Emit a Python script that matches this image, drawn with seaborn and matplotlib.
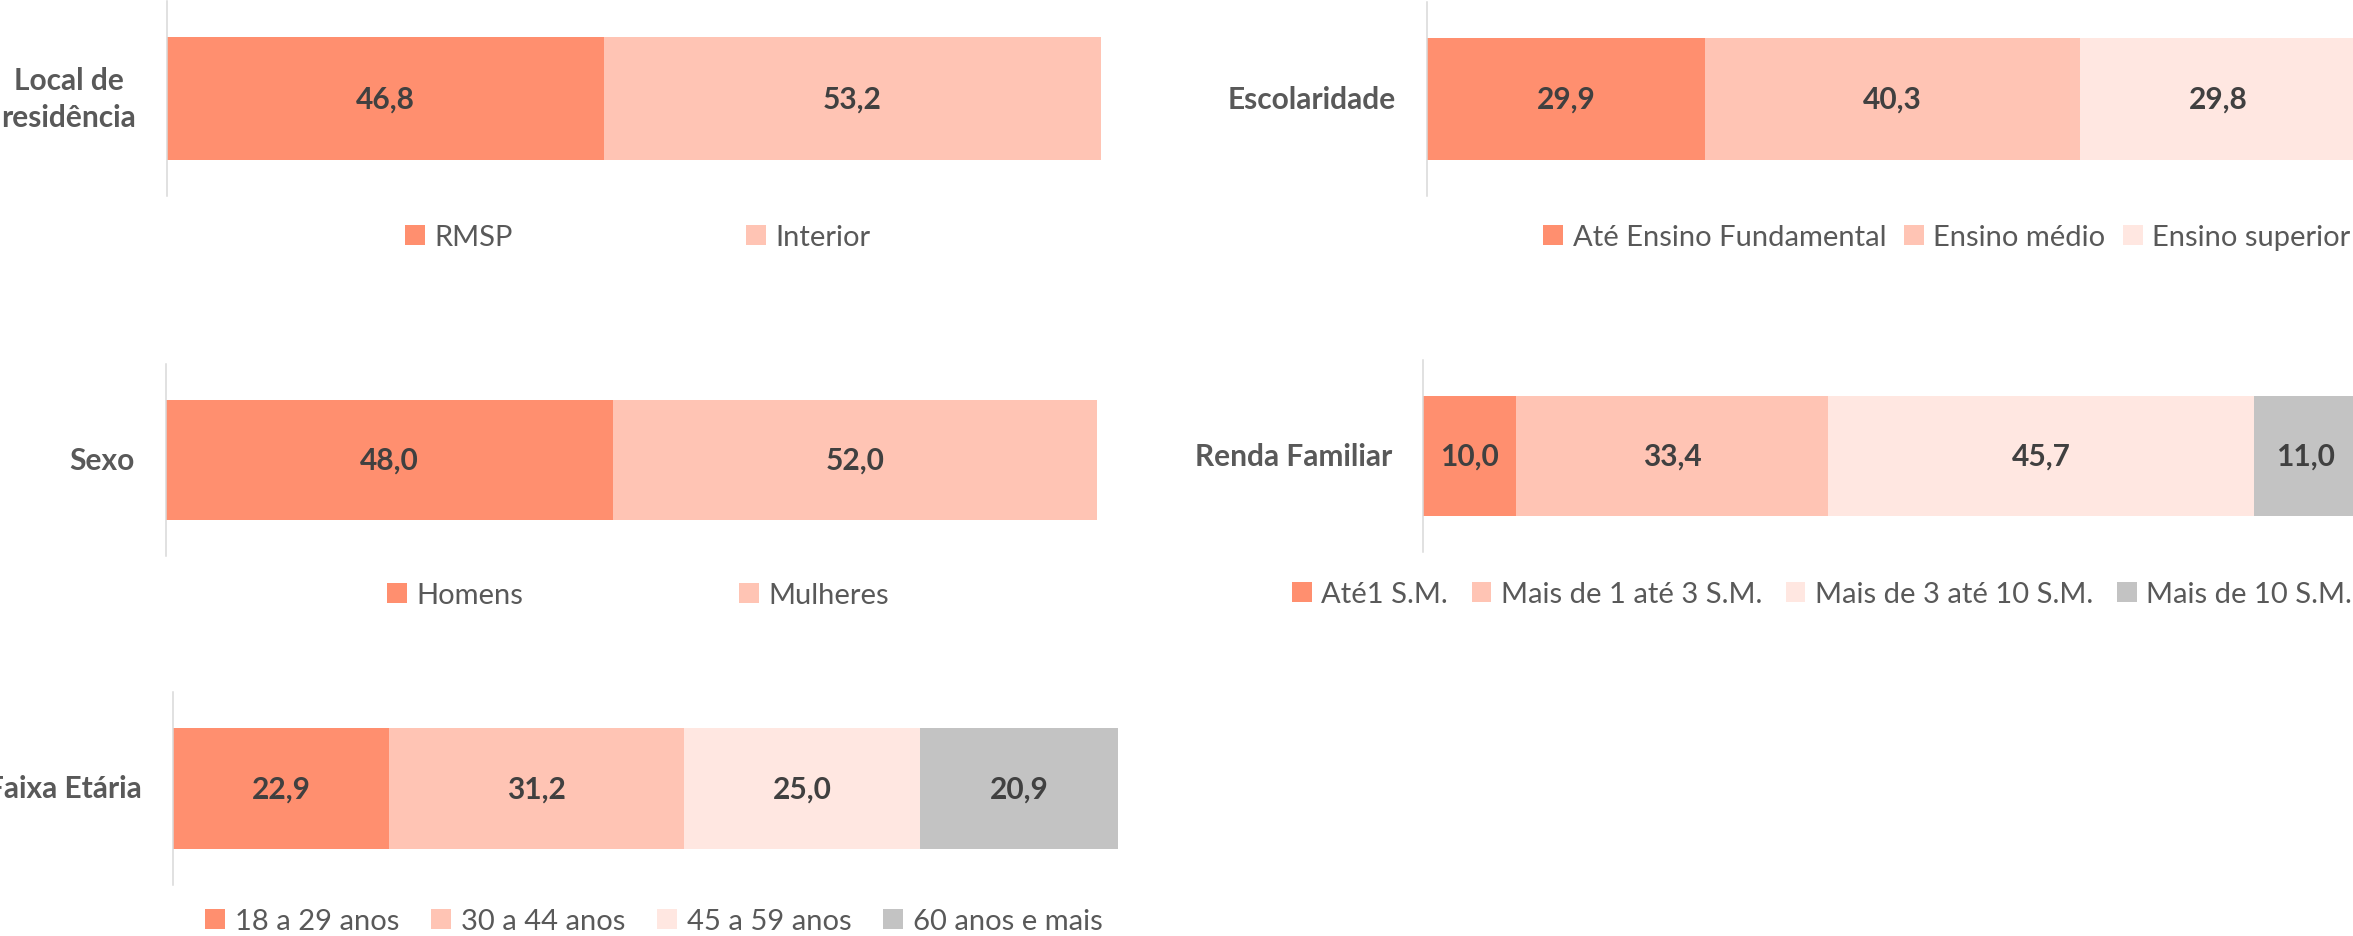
import matplotlib
matplotlib.use("Agg")
import matplotlib.pyplot as plt
from matplotlib.patches import Patch
import numpy as np
import seaborn as sns

# ---- data ----
local_cats = ["RMSP", "Interior"]
local_vals = [46.8, 53.2]
esc_cats = ["Até Ensino Fundamental", "Ensino médio", "Ensino superior"]
esc_vals = [29.9, 40.3, 29.8]
sexo_cats = ["Homens", "Mulheres"]
sexo_vals = [48.0, 52.0]
renda_cats = ["Até1 S.M.", "Mais de 1 até 3 S.M.", "Mais de 3 até 10 S.M.", "Mais de 10 S.M."]
renda_vals = [10.0, 33.4, 45.7, 11.0]
faixa_cats = ["18 a 29 anos", "30 a 44 anos", "45 a 59 anos", "60 anos e mais"]
faixa_vals = [22.9, 31.2, 25.0, 20.9]
titles = ["Local de\nresidência", "Escolaridade", "Sexo", "Renda Familiar", "Faixa Etária"]

colors = ["#FF8F6F", "#FFC4B4", "#FFE7E1", "#C3C3C3"]

sns.set_theme(style="white")
plt.rcParams['font.family'] = ['Lato', 'DejaVu Sans']

W, H = 2353, 937
fig = plt.figure(figsize=(W / 100, H / 100), dpi=100)

# layout in pixels: (left, top, width_for_100, bottom), legend center (x, y), column spacing
panels = [
    (titles[0], local_cats, local_vals, (167, 2, 934, 197), (638, 238), 8.0),
    (titles[1], esc_cats, esc_vals, (1427, 3, 930, 197), (1947, 238), 0.6),
    (titles[2], sexo_cats, sexo_vals, (166, 365, 931, 557), (638, 596), 7.4),
    (titles[3], renda_cats, renda_vals, (1423, 361, 933, 553), (1822, 595), 0.8),
    (titles[4], faixa_cats, faixa_vals, (173, 693, 945, 886), (654, 922), 1.1),
]

FS_LEG = 21
FS_VAL = 21.5
FS_TIT = 21.5
for title, cats, vals, (l, t, w, b), (lx, ly), cs in panels:
    ax = fig.add_axes([l / W, 1 - b / H, w / W, (b - t) / H])
    cum = np.cumsum(vals)
    for k in range(len(vals) - 1, -1, -1):
        sns.barplot(x=[cum[k]], y=[title], orient="h", color=colors[k],
                    saturation=1, width=0.63, ax=ax, linewidth=0)
    for k, v in enumerate(vals):
        ax.text(cum[k] - v / 2, 0, f"{v:.1f}".replace(".", ","), ha="center",
                va="center", fontsize=FS_VAL, fontweight="bold", color="#404040")
    ax.set_xlim(0, 100)
    ax.set_ylim(0.5, -0.5)
    ax.set_xlabel("")
    ax.set_ylabel("")
    ax.set_xticks([])
    ax.set_yticks([])
    for s in ["top", "right", "bottom"]:
        ax.spines[s].set_visible(False)
    ax.spines["left"].set_color("#D9D9D9")
    ax.spines["left"].set_linewidth(1.1)
    ax.annotate(title, xy=(0, 0.5), xycoords="axes fraction", xytext=(-31, 0),
                textcoords="offset pixels", ha="right", va="center",
                multialignment="center", linespacing=1.35, fontsize=FS_TIT,
                fontweight="bold", color="#595959")
    handles = [Patch(facecolor=colors[k], edgecolor="none") for k in range(len(cats))]
    fig.legend(handles, cats, loc="center", bbox_to_anchor=(lx / W, 1 - ly / H),
               ncol=len(cats), frameon=False, fontsize=FS_LEG, labelcolor="#595959",
               handlelength=0.68, handleheight=0.68, handletextpad=0.33,
               columnspacing=cs, borderpad=0, borderaxespad=0)

fig.savefig("out.png", dpi=100, facecolor="white")
